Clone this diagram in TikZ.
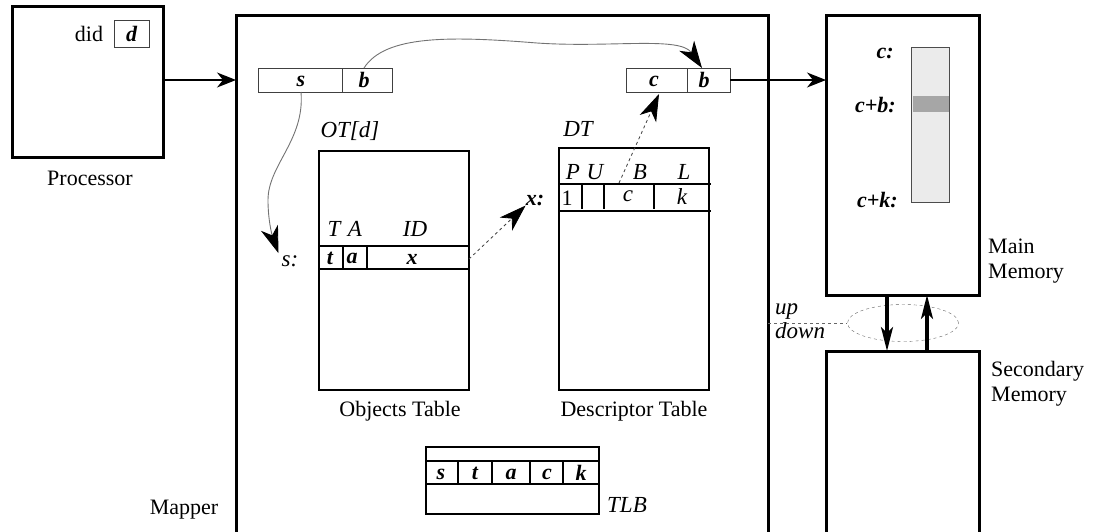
\documentclass[tikz,border=0pt]{standalone}
\usepackage{fontspec}
\setmainfont{Liberation Serif}
\usetikzlibrary{arrows.meta,calc,shapes.geometric}
\begin{document}
\begin{tikzpicture}[x=1pt,y=-1pt,
  lbl/.style={font=\fontsize{22}{25}\selectfont, inner sep=0pt},
  it/.style={font=\fontsize{23}{24}\selectfont\itshape, inner sep=0pt},
  bi/.style={font=\fontsize{22}{24}\selectfont\bfseries\itshape, inner sep=0pt},
  thickbox/.style={draw, line width=3pt, inner sep=0pt, outer sep=0pt, anchor=north west},
  tbl/.style={draw, line width=1.1pt, inner sep=0pt, outer sep=0pt, anchor=north west},
  reg/.style={draw=black!75, line width=1pt, inner sep=0pt, outer sep=0pt, anchor=north west},
  bigtip/.style={-{Stealth[length=27pt,width=18pt,inset=8pt,color=black]}},
  midtip/.style={-{Stealth[length=19pt,width=15pt,inset=6pt,color=black]}},
  thicktip/.style={-{Stealth[length=24pt,width=12pt,inset=6pt]}},
  tline/.style={line width=1.1pt},
]
\useasboundingbox (0,0) rectangle (1096,531);

% big boxes
\node[thickbox, minimum width=151pt, minimum height=151pt] (proc) at (12,6) {};
\node[thickbox, minimum width=532pt, minimum height=540pt] (mapper) at (236,15) {};
\node[thickbox, minimum width=153pt, minimum height=280pt] (mm) at (826,15) {};
\node[thickbox, minimum width=153pt, minimum height=200pt] (sm) at (826,351) {};

% processor contents
\node[reg, minimum width=35pt, minimum height=27pt] (dbox) at (114,20) {};
\node[lbl] (didlbl) at (89,34) {did};
\node[bi] (dlbl) at (dbox.center) {d};
\node[lbl] (proclbl) at (90,178) {Processor};
\node[lbl] (maplbl) at (184,510) {Mapper};

% registers
\node[reg, minimum width=134pt, minimum height=24pt] (sreg) at (258,68) {};
\draw[black!75, line width=1pt] (342,68) -- (342,92);
\node[bi] (s1) at (301,81) {s};
\node[bi] (b1) at (364,80) {b};
\node[reg, minimum width=104pt, minimum height=24pt] (cbreg) at (626,68) {};
\draw[black!75, line width=1pt] (687,68) -- (687,92);
\node[bi] (c2) at (654,81) {c};
\node[bi] (b2) at (704,80) {b};

% objects table
\node[tbl, minimum width=150pt, minimum height=239pt] (ot) at (319,151) {};
\draw[tline] (319,246) -- (469,246) (319,269) -- (469,269) (343,246) -- (343,269) (367,246) -- (367,269);
\node[it] (otlbl) at (350,131) {OT[d]};
\node[it] (hT) at (334,229) {T};
\node[it] (hA) at (355,229) {A};
\node[it] (hID) at (415,229) {ID};
\node[bi] (ott) at (330,258) {t};
\node[bi] (ota) at (352,258) {a};
\node[bi] (otx) at (412,259) {x};
\node[it] (slab) at (290,261) {s:};
\node[lbl] (otname) at (400,411) {Objects Table};

% descriptor table
\node[tbl, minimum width=150pt, minimum height=242pt] (dt) at (559,148) {};
\draw[tline] (559,184) -- (711,184) (559,211) -- (711,211) (582,184) -- (582,209) (604,184) -- (604,209) (654,184) -- (654,209);
\node[it] (dtlbl) at (578,129) {DT};
\node[it] (hP) at (573,172) {P};
\node[it] (hU) at (595,172) {U};
\node[it] (hB) at (640,172) {B};
\node[it] (hL) at (684,172) {L};
\node[lbl] (dt1) at (567,198) {1};
\node[it] (dtc) at (628,196) {c};
\node[it] (dtk) at (682,197) {k};
\node[bi] (xlab) at (535,200) {x:};
\node[lbl] (dtname) at (634,411) {Descriptor Table};
\coordinate (dtptr) at (619,183);

% TLB
\node[tbl, minimum width=173pt, minimum height=67pt] (tlb) at (426,447) {};
\draw[tline] (426,461) -- (599,461) (426,484) -- (599,484) (458,461) -- (458,484) (492,461) -- (492,484) (530,461) -- (530,484) (563,461) -- (563,484);
\node[bi] (ts) at (441,474) {s};
\node[bi] (tt) at (475,473) {t};
\node[bi] (ta) at (511,474) {a};
\node[bi] (tc) at (547,474) {c};
\node[bi] (tk) at (581,473) {k};
\node[it, anchor=west] (tlblbl) at (607,505) {TLB};

% main memory contents
\node[draw=black!70, fill=black!8, line width=0.8pt, anchor=north west, minimum width=38pt, minimum height=155pt, inner sep=0pt, outer sep=0pt] (strip) at (911,47) {};
\fill[black!35] (912.5,96) rectangle (948.5,112);
\node[bi, anchor=east] (lc) at (894,53) {c:};
\node[bi, anchor=east] (lcb) at (896,105) {c+b:};
\node[bi, anchor=east] (lck) at (898,200) {c+k:};
\node[lbl, anchor=west, align=left] (mmlbl) at (988,261) {Main\\Memory};
\node[lbl, anchor=west, align=left] (smlbl) at (991,384) {Secondary\\Memory};

% up/down
\node[draw=black!60, dashed, ellipse, minimum width=111pt, minimum height=37pt, inner sep=0pt] (ell) at (903,323) {};
\node[it, anchor=west, align=left] (updown) at (775,321) {up\\down};
\draw[dashed, black!60, line width=0.8pt] (mapper.east |- ell.west) -- (ell.west);
\draw[line width=3.2pt, thicktip] ($(mm.south west)+(61,0)$) -- ($(sm.north west)+(61,0)$);
\draw[line width=3.2pt, thicktip] ($(sm.north west)+(101,0)$) -- ($(mm.south west)+(101,0)$);

% connectors
\draw[line width=1.2pt, midtip] (proc.east |- b1) -- (mapper.west |- b1);
\draw[line width=1.2pt, midtip] (cbreg.east) -- (mm.west |- cbreg.east);
\draw[black!55, line width=0.9pt, bigtip] (b1.north |- sreg.north) .. controls (385,35) and (450,36) .. (537,43) .. controls (610,48) and (680,36) .. ($(b2.north |- cbreg.north)+(-2,0)$);
\draw[black!55, line width=0.9pt, bigtip] (s1.south |- sreg.south) .. controls (305,140) and (268,165) .. (268,200) .. controls (268,220) and (272,235) .. ($(slab.north west)+(-3,-2)$);
\draw[black!75, dashed, line width=0.8pt, bigtip] (ot.east |- otx) -- (xlab.south west);
\draw[black!75, dashed, line width=0.8pt, bigtip] (dtptr) -- ($(c2.south |- cbreg.south)+(5,2)$);
\end{tikzpicture}
\end{document}
